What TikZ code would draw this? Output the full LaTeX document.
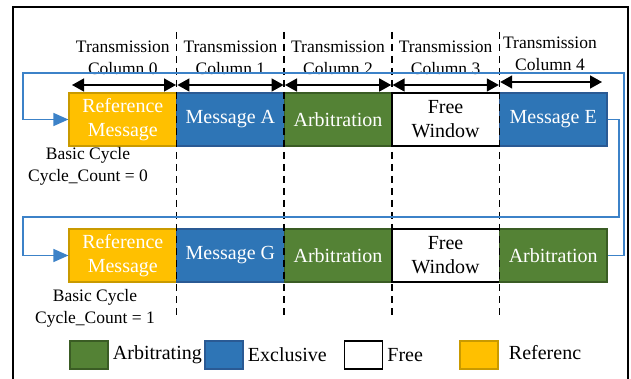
\documentclass[tikz,border=0pt]{standalone}
\usepackage{fontspec}
\setmainfont{Liberation Serif}
\usetikzlibrary{calc,arrows.meta,positioning}
\definecolor{refcol}{HTML}{FFC000}
\definecolor{refline}{HTML}{C99A00}
\definecolor{exccol}{HTML}{2E75B6}
\definecolor{excline}{HTML}{2A5A94}
\definecolor{arbcol}{HTML}{548235}
\definecolor{arbline}{HTML}{3A5C24}
\definecolor{loopcol}{HTML}{3C82C8}

\begin{document}
\begin{tikzpicture}[x=1pt,y=-1pt,
 slot/.style={minimum width=107.6pt, minimum height=53pt, inner sep=0pt,
    align=center, font=\fontsize{20}{24}\selectfont, line width=1.2pt},
 refslot/.style={slot, fill=refcol, draw=refline, text=white},
 excslot/.style={slot, fill=exccol, draw=excline, text=white},
 arbslot/.style={slot, fill=arbcol, draw=arbline, text=white},
 freeslot/.style={slot, fill=white, draw=black, line width=1.5pt},
 header/.style={align=center, font=\fontsize{17.5}{22}\selectfont, inner sep=0pt},
 span/.style={{Triangle[length=12pt,width=13pt]}-{Triangle[length=12pt,width=13pt]}, line width=1.5pt},
 loopline/.style={draw=loopcol, line width=1.5pt, -{Triangle[length=15pt,width=13pt]}},
 legbox/.style={minimum width=38pt, minimum height=28pt, inner sep=0pt, line width=1.5pt},
 legtext/.style={anchor=west, font=\fontsize{20}{24}\selectfont, inner sep=0pt}]

    \useasboundingbox (0,0) rectangle (631,379);

    % frame
    \draw[line width=2pt] (13,385) -- (13,7) -- (628,7) -- (628,385);

    % first basic cycle
    \node[refslot]  (R1)  at (122.8,119.5) {Reference\\Message};
    \node[excslot]  (MA)  at (230.4,119.5) {Message A};
    \node[arbslot]  (AR1) at (338.0,119.5) {Arbitration};
    \node[freeslot] (FW1) at (445.6,119.5) {Free\\Window};
    \node[excslot]  (ME)  at (553.2,119.5) {Message E};

    % second basic cycle
    \node[refslot]  (R2)  at (122.8,255.5) {Reference\\Message};
    \node[excslot]  (MG)  at (230.4,255.5) {Message G};
    \node[arbslot]  (AR2) at (338.0,255.5) {Arbitration};
    \node[freeslot] (FW2) at (445.6,255.5) {Free\\Window};
    \node[arbslot]  (AR3) at (553.2,255.5) {Arbitration};

    % column borders
    \foreach \x in {176.6,284.2,391.8,499.4}
      \draw[dashed, dash pattern=on 7pt off 5pt, line width=1.6pt] (\x,32) -- (\x,316);

    % column headers
    \node[header] (C0) at (122.8,58) {Transmission\\Column 0};
    \node[header] (C1) at (230.4,58) {Transmission\\Column 1};
    \node[header] (C2) at (338.0,58) {Transmission\\Column 2};
    \node[header] (C3) at (445.6,58) {Transmission\\Column 3};
    \node[header] (C4) at (550.0,54) {Transmission\\Column 4};

    \draw[span] (72,85) -- (176,85);
    \draw[span] (177.4,85) -- (283.6,85);
    \draw[span] (285,85) -- (391.2,85);
    \draw[span] (392.6,85) -- (498.8,85);
    \draw[span] (500.2,82) -- (602,82);

    % cycle labels
    \node[header] (B1) at (88,166) {Basic Cycle\\Cycle\_Count = 0};
    \node[header] (B2) at (95,308) {Basic Cycle\\Cycle\_Count = 1};

    % cycle links
    \draw[loopline] (ME.east) -- (619,119.5) -- (619,217) -- (23,217) |- (R2.west);
    \draw[loopline] (AR3.east) -- (624,255.5) -- (624,73) -- (23,73) |- (R1.west);

    % legend
    \node[legbox, fill=arbcol, draw=arbline] (LA) at (89,355) {};
    \node[legtext] (TA) at ($(LA.east)+(4,0)$) {Arbitrating};
    \node[legbox, fill=exccol, draw=excline] (LE) at (224,355) {};
    \node[legtext] (TE) at ($(LE.east)+(4,0)$) {Exclusive};
    \node[legbox, fill=white, draw=black] (LF) at (363.5,355) {};
    \node[legtext] (TF) at ($(LF.east)+(4,0)$) {Free};
    \node[legbox, fill=refcol, draw=refline] (LR) at (479,355) {};
    \node[legtext] (TR) at ($(LR.east)+(10,-2)$) {Referenc};

\end{tikzpicture}
\end{document}
